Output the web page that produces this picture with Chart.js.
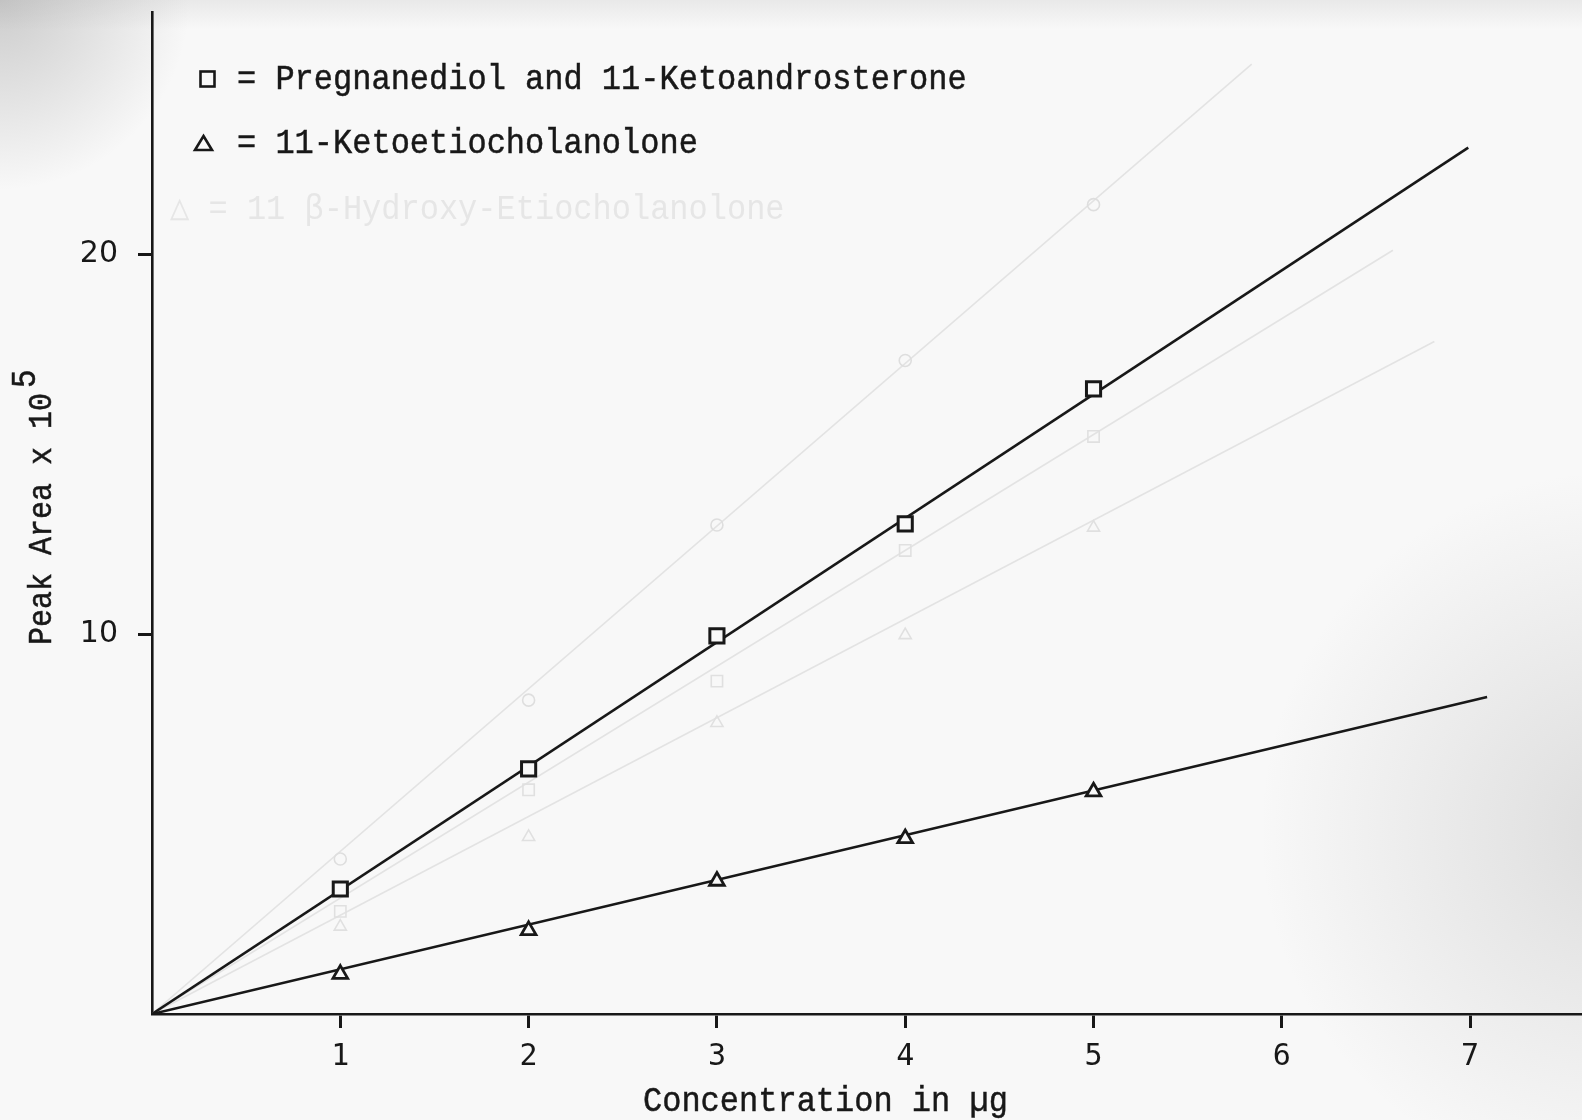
<!DOCTYPE html>
<html>
<head>
<meta charset="utf-8">
<title>Peak Area vs Concentration</title>
<script src="https://cdn.jsdelivr.net/npm/chart.js@4.4.1/dist/chart.umd.min.js"></script>
<style>
  html, body { margin: 0; padding: 0; background: #f8f8f8; overflow: hidden; }
  #wrap { width: 1582px; height: 1120px; }
  canvas { display: block; }
</style>
</head>
<body>
<div id="wrap"><canvas id="c" width="1582" height="1120"></canvas></div>
<script>
// Amount of each standard injected (µg)
const concentrations = [1, 2, 3, 4, 5];
// Peak area (x 10^5): Pregnanediol and 11-Ketoandrosterone
const pregnanediolArea = [3.29, 6.45, 9.95, 12.9, 16.45];
// Peak area (x 10^5): 11-Ketoetiocholanolone
const ketoetioArea = [1.05, 2.2, 3.5, 4.62, 5.85];
// Calibration lines drawn through the origin: [µg, area] end points
const pregnanediolFit = [[0, 0], [6.99, 22.8]];
const ketoetioFit = [[0, 0], [7.09, 8.34]];
// Faint curves showing through the paper from the neighbouring sheet
const faintCircleArea = [4.08, 8.26, 12.87, 17.2, 21.3];
const faintSquareArea = [2.7, 5.9, 8.76, 12.2, 15.2];
const faintTriangleArea = [2.3, 4.66, 7.66, 9.97, 12.8];
const faintCircleFit = [[0, 0], [5.84, 25.0]];
const faintSquareFit = [[0, 0], [6.59, 20.1]];
const faintTriangleFit = [[0, 0], [6.81, 17.7]];
// Axis ticks and text
const xTicks = [1, 2, 3, 4, 5, 6, 7];
const yTicks = [10, 20];
const legendLabels = ['= Pregnanediol and 11-Ketoandrosterone', '= 11-Ketoetiocholanolone'];
const faintLegendLabel = '\u25B3 = 11 \u03B2-Hydroxy-Etiocholanolone';
const xTitle = 'Concentration in \u00B5g';
const yTitle = 'Peak Area x 10';
const yTitleExp = '5';

const INK = '#181818';
const PAPER = '#f8f8f8';
const GHOST = '#e3e3e3';
const MONO = '"Liberation Mono", "DejaVu Sans Mono", monospace';

const toXY = (xs, ys) => xs.map((x, i) => ({ x: x, y: ys[i] }));
const pairs = p => p.map(([x, y]) => ({ x: x, y: y }));

// typewriter-style text: a little taller and heavier than the plain monospace face
function typeText(ctx, text, x, y, size, color, heavy) {
  ctx.save();
  ctx.translate(x, y);
  ctx.scale(1, 1.12);
  ctx.font = size + 'px ' + MONO;
  ctx.fillStyle = color;
  ctx.textAlign = 'left';
  ctx.textBaseline = 'alphabetic';
  ctx.fillText(text, 0, 0);
  if (heavy) {
    ctx.strokeStyle = color;
    ctx.lineWidth = 0.45;
    ctx.strokeText(text, 0, 0);
  }
  ctx.restore();
}

const paperPlugin = {
  id: 'paper',
  beforeDraw(chart) {
    const ctx = chart.ctx;
    const w = chart.width, h = chart.height;
    ctx.save();
    ctx.fillStyle = PAPER;
    ctx.fillRect(0, 0, w, h);
    // darker scan edge at the upper left
    let g = ctx.createRadialGradient(0, 0, 0, 0, 0, 190);
    g.addColorStop(0, 'rgba(110,110,110,0.32)');
    g.addColorStop(1, 'rgba(110,110,110,0)');
    ctx.fillStyle = g;
    ctx.fillRect(0, 0, 240, 240);
    g = ctx.createLinearGradient(0, 0, 0, 30);
    g.addColorStop(0, 'rgba(140,140,140,0.14)');
    g.addColorStop(1, 'rgba(140,140,140,0)');
    ctx.fillStyle = g;
    ctx.fillRect(0, 0, w, 30);
    // grey haze towards the lower right
    g = ctx.createRadialGradient(1620, 830, 0, 1620, 830, 360);
    g.addColorStop(0, 'rgba(150,150,150,0.28)');
    g.addColorStop(1, 'rgba(150,150,150,0)');
    ctx.fillStyle = g;
    ctx.fillRect(1100, 400, 482, 720);
    // faint key showing through from the neighbouring sheet
    typeText(ctx, faintLegendLabel, 170, 219, 32, '#e6e6e6', false);
    ctx.restore();
  }
};

const textPlugin = {
  id: 'labels',
  afterDraw(chart) {
    const ctx = chart.ctx;
    ctx.save();
    // key markers
    ctx.strokeStyle = INK;
    ctx.lineWidth = 2.6;
    ctx.lineJoin = 'miter';
    ctx.strokeRect(200.5, 71.5, 14, 15);
    ctx.beginPath();
    ctx.moveTo(203.5, 136);
    ctx.lineTo(212, 150);
    ctx.lineTo(195, 150);
    ctx.closePath();
    ctx.stroke();
    // key labels
    typeText(ctx, legendLabels[0], 237, 89, 32, INK, true);
    typeText(ctx, legendLabels[1], 237, 153, 32, INK, true);
    // x axis title
    typeText(ctx, xTitle, 643, 1111, 32, INK, true);
    // y axis title with raised exponent
    ctx.save();
    ctx.translate(51, 645);
    ctx.rotate(-Math.PI / 2);
    ctx.scale(1, 1.12);
    ctx.font = '30px ' + MONO;
    ctx.fillStyle = INK;
    ctx.strokeStyle = INK;
    ctx.lineWidth = 0.45;
    ctx.textBaseline = 'alphabetic';
    ctx.textAlign = 'left';
    ctx.fillText(yTitle, 0, 0);
    ctx.strokeText(yTitle, 0, 0);
    const w = ctx.measureText(yTitle).width;
    ctx.font = '31px ' + MONO;
    ctx.fillText(yTitleExp, w + 5, -14);
    ctx.strokeText(yTitleExp, w + 5, -14);
    ctx.restore();
    ctx.restore();
  }
};

const lineStyle = (data, color, width) => ({
  data: data, showLine: true, borderColor: color, borderWidth: width,
  pointRadius: 0, fill: false, tension: 0
});
const markStyle = (data, style, radius, color, width, bg) => ({
  data: data, showLine: false, pointStyle: style, pointRadius: radius,
  pointBorderColor: color, pointBorderWidth: width, pointBackgroundColor: bg
});

const datasets = [
  Object.assign({ label: 'Pregnanediol and 11-Ketoandrosterone' },
    markStyle(toXY(concentrations, pregnanediolArea), 'rect', 10, INK, 3, PAPER)),
  Object.assign({ label: '11-Ketoetiocholanolone' },
    markStyle(toXY(concentrations, ketoetioArea), 'triangle', 8.5, INK, 2.8, PAPER)),
  Object.assign({ label: 'Pregnanediol fit' }, lineStyle(pairs(pregnanediolFit), INK, 2.6)),
  Object.assign({ label: 'Ketoetiocholanolone fit' }, lineStyle(pairs(ketoetioFit), INK, 2.6)),
  Object.assign({ label: 'faint circles' }, markStyle(toXY(concentrations, faintCircleArea), 'circle', 6, '#dedede', 1.6, 'rgba(0,0,0,0)')),
  Object.assign({ label: 'faint squares' }, markStyle(toXY(concentrations, faintSquareArea), 'rect', 8, '#e0e0e0', 1.6, 'rgba(0,0,0,0)')),
  Object.assign({ label: 'faint triangles' }, markStyle(toXY(concentrations, faintTriangleArea), 'triangle', 7, '#e0e0e0', 1.6, 'rgba(0,0,0,0)')),
  Object.assign({ label: 'faint circle line' }, lineStyle(pairs(faintCircleFit), GHOST, 1.6)),
  Object.assign({ label: 'faint square line' }, lineStyle(pairs(faintSquareFit), GHOST, 1.6)),
  Object.assign({ label: 'faint triangle line' }, lineStyle(pairs(faintTriangleFit), GHOST, 1.6))
];

new Chart(document.getElementById('c'), {
  type: 'scatter',
  data: { datasets: datasets },
  options: {
    responsive: false,
    animation: false,
    events: [],
    layout: { autoPadding: false, padding: { top: 12, left: 0, right: 0, bottom: 0 } },
    plugins: { legend: { display: false }, tooltip: { enabled: false } },
    scales: {
      x: {
        type: 'linear', min: 0, max: 7.594,
        afterBuildTicks: s => { s.ticks = xTicks.map(v => ({ value: v })); },
        afterFit: s => { s.height = 106; s.paddingLeft = 0; s.paddingRight = 0; },
        grid: { drawOnChartArea: false, drawTicks: true, tickLength: 14, tickWidth: 3, tickColor: INK, color: INK },
        border: { display: true, color: INK, width: 2.6 },
        ticks: { font: { family: '"DejaVu Sans Mono"', size: 30 }, color: INK, padding: 11, maxRotation: 0, autoSkip: false }
      },
      y: {
        type: 'linear', min: 0, max: 26.37,
        afterBuildTicks: s => { s.ticks = yTicks.map(v => ({ value: v })); },
        afterFit: s => { s.width = 152; s.paddingTop = 0; s.paddingBottom = 0; },
        grid: { drawOnChartArea: false, drawTicks: true, tickLength: 14, tickWidth: 3, tickColor: INK, color: INK },
        border: { display: true, color: INK, width: 2.6 },
        ticks: { font: { family: '"DejaVu Sans"', size: 30 }, color: INK, padding: 20, autoSkip: false }
      }
    }
  },
  plugins: [paperPlugin, textPlugin]
});
</script>
</body>
</html>
